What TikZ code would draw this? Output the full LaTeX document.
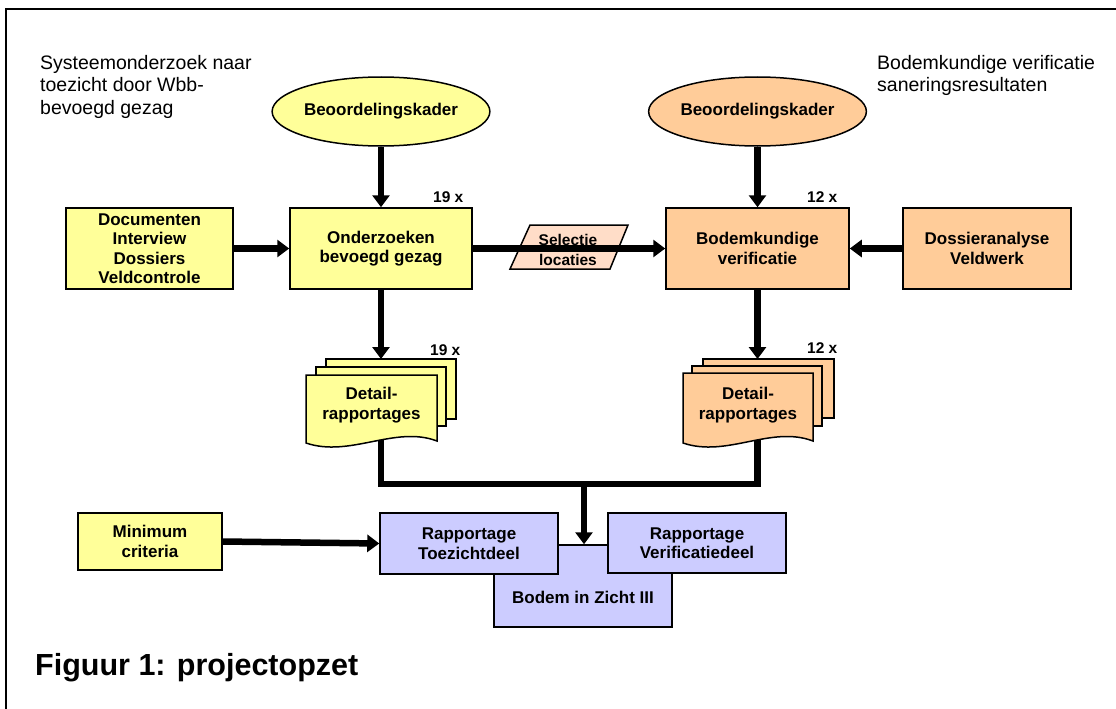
\documentclass[tikz,border=0pt]{standalone}
\usepackage{fontspec}
\setmainfont{Liberation Sans}
\usetikzlibrary{arrows.meta,shapes.geometric}
\definecolor{yel}{RGB}{255,255,153}
\definecolor{sal}{RGB}{255,204,153}
\definecolor{salL}{RGB}{255,221,200}
\definecolor{lav}{RGB}{204,204,255}
\begin{document}
\begin{tikzpicture}[x=1pt,y=-1pt,
  box/.style={draw,line width=1.5pt,rectangle,inner sep=0pt,align=center,font=\fontsize{17}{19.5}\selectfont\bfseries},
  blob/.style={draw,line width=1.5pt,ellipse,inner sep=0pt,minimum width=211pt,minimum height=69pt,font=\fontsize{17}{19.5}\selectfont\bfseries},
  conn/.style={line width=6.5pt,-{Triangle[length=12pt,width=17pt]}},
  thick line/.style={line width=6.5pt},
  cnt/.style={font=\fontsize{15.5}{18}\selectfont\bfseries,inner sep=0pt,anchor=base west},
  txt/.style={font=\fontsize{17}{20}\selectfont\bfseries,inner sep=0pt,align=center},
  note/.style={font=\fontsize{19.5}{22.5}\selectfont,align=left,inner sep=0pt,anchor=north west},
  sheet/.style={draw,line width=1.5pt},
]
\useasboundingbox (0,0) rectangle (1116,709);
% frame
\draw[line width=1.5pt] (6,715) -- (6,9) -- (1120,9);

% notes
\node[note] (n1) at (40,55) {Systeemonderzoek naar\\toezicht door Wbb-\\bevoegd gezag};
\node[note] (n2) at (877,55) {Bodemkundige verificatie\\saneringsresultaten};
\node[font=\fontsize{30.5}{34}\selectfont\bfseries,inner sep=0pt,anchor=base west] (cap) at (35,675) {Figuur 1: projectopzet};

% top row
\node[blob,fill=yel] (ell1) at (381,111.5) {Beoordelingskader};
\node[blob,fill=sal] (ell2) at (757.5,111.5) {Beoordelingskader};
\node[box,fill=yel,minimum width=167pt,minimum height=81pt] (doc) at (149.5,248.5) {Documenten\\ Interview\\Dossiers\\Veldcontrole};
\node[box,fill=yel,minimum width=182pt,minimum height=81pt] (ond) at (381,248.5) {Onderzoeken\\bevoegd gezag};
\node[box,fill=sal,minimum width=183pt,minimum height=81pt] (bod) at (757.5,248.5) {Bodemkundige\\verificatie};
\node[box,fill=sal,minimum width=168pt,minimum height=81pt] (dos) at (987,248.5) {Dossieranalyse\\Veldwerk};

\node[cnt] (c1) at (433,202) {19 x};
\node[cnt] (c2) at (807,202) {12 x};

% selectie parallelogram
\draw[sheet,fill=salL] (530,225) -- (628,225) -- (610,269) -- (510,269) -- cycle;
\node[txt,font=\fontsize{15.5}{20}\selectfont\bfseries] (sel) at (568,250) {Selectie\\locaties};

% arrows top row
\draw[conn] (ell1.south) -- (ond.north);
\draw[conn] (ell2.south) -- (bod.north);
\draw[conn] (doc.east) -- (ond.west);
\draw[conn] (ond.east) -- (bod.west);
\draw[conn] (dos.west) -- (bod.east);

% coordinates for stacks
\coordinate (detLtop) at (381,359);
\coordinate (detRtop) at (757.5,359);
\coordinate (detLbot) at (381,440);
\coordinate (detRbot) at (757.5,440);
\coordinate (junc) at (584,484);

% join lines
\draw[thick line] (detLbot) |- (junc) -| (detRbot);

% left stack
\draw[sheet,fill=yel] (326,359) rectangle (456,419);
\draw[sheet,fill=yel] (316,367) rectangle (446,426);
\draw[sheet,fill=yel] (306,443) -- (306,375) -- (437,375) -- (437,441)
  .. controls (395,425) and (350,458) .. cycle;
\node[txt] (detL) at (371.5,405) {Detail-\\rapportages};
\node[cnt] (c3) at (430,355) {19 x};

% right stack
\draw[sheet,fill=sal] (703,359) rectangle (834,418);
\draw[sheet,fill=sal] (692,366) rectangle (822,426);
\draw[sheet,fill=sal] (683,443) -- (683,373) -- (813,373) -- (813,441)
  .. controls (771,425) and (727,458) .. cycle;
\node[txt] (detR) at (748,405) {Detail-\\rapportages};
\node[cnt] (c4) at (807,353) {12 x};

\draw[conn] (ond.south) -- (detLtop);
\draw[conn] (bod.south) -- (detRtop);

% bottom row
\node[box,fill=lav,minimum width=178pt,minimum height=82pt] (bzi) at (583,586) {};
\node[txt] (bzit) at (583,597) {Bodem in Zicht III};
\node[box,fill=lav,minimum width=178pt,minimum height=61pt] (rapT) at (469,543.5) {Rapportage\\Toezichtdeel};
\node[box,fill=lav,minimum width=178pt,minimum height=60pt] (rapV) at (697,543) {Rapportage\\Verificatiedeel};
\node[box,fill=yel,minimum width=144pt,minimum height=57pt] (min) at (150,541.5) {Minimum\\criteria};

\draw[conn] (junc) -- (junc |- bzi.north);
\draw[conn] (min.east) -- (rapT.west);
\end{tikzpicture}
\end{document}
